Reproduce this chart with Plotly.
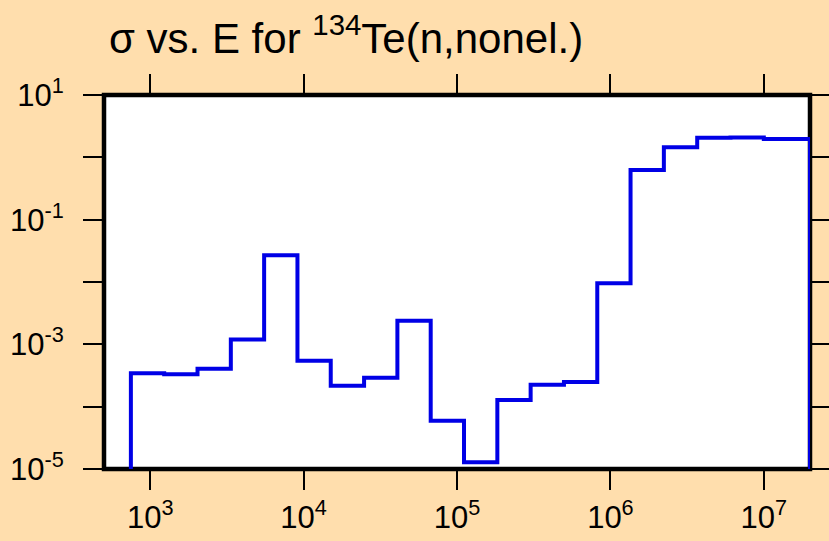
import math
import plotly.graph_objects as go

# Group boundaries (eV) and cross section per group (b)
edges = [7.485e2, 1.234e3, 2.035e3, 3.355e3, 5.531e3, 9.119e3, 1.503e4,
         2.479e4, 4.087e4, 6.738e4, 1.111e5, 1.832e5, 3.020e5, 4.979e5,
         8.210e5, 1.353e6, 2.231e6, 3.679e6, 6.065e6, 1.0e7, 2.0e7]
sigma = [3.43e-4, 3.30e-4, 4.06e-4, 1.19e-3, 2.68e-2, 5.47e-4, 2.17e-4,
         2.92e-4, 2.39e-3, 5.96e-5, 1.28e-5, 1.28e-4, 2.25e-4, 2.49e-4,
         9.53e-3, 6.27e-1, 1.45, 2.07, 2.08, 1.97]
floor = 1e-5

x_tick_vals = [1e3, 1e4, 1e5, 1e6, 1e7]
x_tick_text = ["10<sup>3</sup>", "10<sup>4</sup>", "10<sup>5</sup>",
               "10<sup>6</sup>", "10<sup>7</sup>"]
y_tick_vals = [1e1, 1e-1, 1e-3, 1e-5]
y_tick_text = ["10<sup>1</sup>", "10<sup>-1</sup>", "10<sup>-3</sup>", "10<sup>-5</sup>"]
y_minor_vals = [1e0, 1e-2, 1e-4]

# histogram outline: rise at first edge, steps, drop at last edge
xs = [edges[0]] + edges[:-1] + [edges[-1], edges[-1]]
ys = [floor] + sigma + [sigma[-1], floor]

FONT = "Liberation Sans, Arial, Helvetica, sans-serif"
BG = "#FFDEAD"

fig = go.Figure()
fig.add_trace(go.Scatter(
    x=xs, y=ys, mode="lines", line=dict(color="rgb(0,0,230)", width=4, shape="hv"),
    hoverinfo="skip", showlegend=False,
))

axis_common = dict(
    showgrid=False, zeroline=False, showline=False, automargin=False,
    ticks="outside", ticklen=20, tickwidth=2, tickcolor="black",
    mirror="ticks", tickfont=dict(family=FONT, size=31, color="black"),
)

fig.update_xaxes(type="log", range=[math.log10(500), math.log10(2e7)],
                 tickmode="array", tickvals=x_tick_vals, ticktext=x_tick_text,
                 ticklabelstandoff=1, **axis_common)
fig.update_yaxes(type="log", range=[-5, 1],
                 tickmode="array", tickvals=y_tick_vals, ticktext=y_tick_text,
                 minor=dict(tickmode="array", tickvals=y_minor_vals, ticks="outside",
                            ticklen=20, tickwidth=2, tickcolor="black", showgrid=False),
                 ticklabelstandoff=13, **axis_common)

# heavy frame around the plotting area
fig.add_shape(type="rect", xref="paper", yref="paper", x0=0, x1=1, y0=0, y1=1,
              line=dict(color="black", width=4.5), fillcolor="rgba(0,0,0,0)",
              layer="below")

fig.update_layout(
    width=829, height=541,
    paper_bgcolor=BG, plot_bgcolor="white",
    margin=dict(l=104, r=19, t=95, b=72),
    title=dict(text="σ vs. E for <sup>134</sup>Te(n,nonel.)",
               font=dict(family=FONT, size=42, color="black"),
               xref="container", yref="container",
               x=109 / 829, xanchor="left",
               y=1 - 38 / 541, yanchor="middle"),
)

fig.write_html("out.html")
